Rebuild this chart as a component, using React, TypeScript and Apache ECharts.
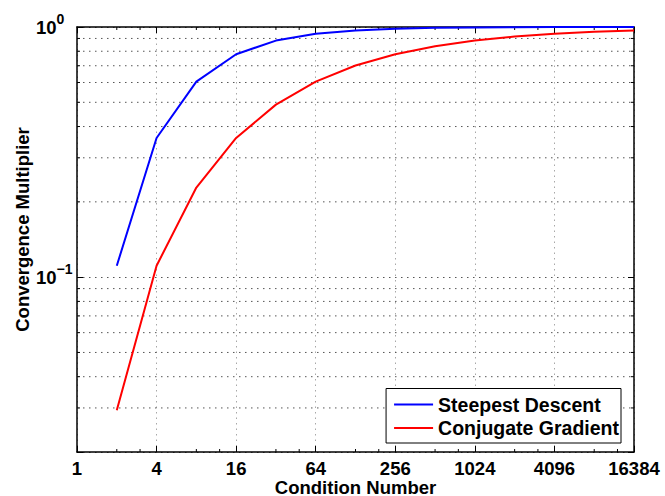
import React, { useEffect, useRef } from "react";
import * as echarts from "echarts";

// ---- data ----
const conditionNumbers = [2, 4, 8, 16, 32, 64, 128, 256, 512, 1024, 2048, 4096, 8192, 16384];
const steepestDescent = [0.1111, 0.36, 0.6049, 0.7785, 0.8825, 0.9394, 0.9693, 0.9845, 0.9922, 0.9961, 0.998, 0.999, 0.9995, 0.9998];
const conjugateGradient = [0.0294, 0.1111, 0.2281, 0.36, 0.4894, 0.6049, 0.7017, 0.7785, 0.8379, 0.8825, 0.9154, 0.9394, 0.9568, 0.9693];
const xTickLabels = ["1", "4", "16", "64", "256", "1024", "4096", "16384"];
const xMinorTicks = [2, 3, 8, 12, 32, 48, 128, 192, 512, 768, 2048, 3072, 8192, 12288];
const yMinorValues = [0.03, 0.04, 0.05, 0.06, 0.07, 0.08, 0.09, 0.2, 0.3, 0.4, 0.5, 0.6, 0.7, 0.8, 0.9];
const seriesNames = ["Steepest Descent", "Conjugate Gradient"];

const X_MIN = 1;
const X_MAX = 16384;
const Y_MIN = 0.02;
const Y_MAX = 1;

const FONT = '"Liberation Sans", Arial, Helvetica, sans-serif';

function pairs(xs: number[], ys: number[]) {
  return xs.map((x, i) => [x, ys[i]]);
}

export default function App() {
  const ref = useRef<HTMLDivElement>(null);

  useEffect(() => {
    if (!ref.current) return;
    const chart = echarts.init(ref.current, null, { renderer: "svg" });

    const frameAxisCommon = {
      axisLine: { show: true, onZero: false, lineStyle: { color: "#000", width: 1.5 } },
      axisTick: { show: true, inside: true, length: 6, lineStyle: { color: "#000", width: 1 } },
      minorTick: { show: false },
      minorSplitLine: { show: false },
    };

    const option: any = {
      animation: false,
      backgroundColor: "#fff",
      textStyle: { fontFamily: FONT },
      grid: { left: 77, right: 31, top: 27, bottom: 44, containLabel: false, outerBoundsMode: "none" },
      legend: {
        data: seriesNames,
        orient: "vertical",
        right: 44,
        bottom: 53,
        icon: "rect",
        itemWidth: 39,
        itemHeight: 2,
        itemGap: 3.5,
        padding: [6, 2, 5, 8],
        backgroundColor: "#fff",
        borderColor: "#000",
        borderWidth: 1,
        borderRadius: 0,
        selectedMode: false,
        textStyle: { fontSize: 19.5, fontWeight: "bold", color: "#000", fontFamily: FONT },
      },
      xAxis: [
        {
          type: "log",
          logBase: 4,
          min: X_MIN,
          max: X_MAX,
          splitNumber: 7,
          position: "bottom",
          name: "Condition Number",
          nameLocation: "middle",
          nameGap: 26,
          nameMoveOverlap: false,
          nameTextStyle: { fontSize: 18.5, fontWeight: "bold", color: "#000", fontFamily: FONT },
          ...frameAxisCommon,
          axisLabel: {
            show: true,
            margin: 7,
            color: "#000",
            fontSize: 18.5,
            fontWeight: "bold",
            fontFamily: FONT,
            showMinLabel: true,
            showMaxLabel: true,
            formatter: (v: number) => {
              const s = String(Math.round(v));
              return xTickLabels.includes(s) ? s : "";
            },
          },
          splitLine: { show: true, lineStyle: { color: "#a8a8a8", width: 1, type: [1.5, 4] } },
        },
        {
          type: "log",
          logBase: 4,
          min: X_MIN,
          max: X_MAX,
          splitNumber: 7,
          position: "top",
          ...frameAxisCommon,
          axisLabel: { show: false },
          splitLine: { show: false },
        },
      ],
      yAxis: [
        {
          type: "log",
          logBase: 10,
          min: Y_MIN,
          max: Y_MAX,
          splitNumber: 5,
          position: "left",
          name: "Convergence Multiplier",
          nameLocation: "middle",
          nameGap: 45,
          nameMoveOverlap: false,
          nameTextStyle: {
            fontSize: 18.5,
            fontWeight: "bold",
            color: "#000",
            fontFamily: FONT,
            padding: [0, 0, 0, 20],
          },
          ...frameAxisCommon,
          axisLabel: {
            show: true,
            margin: 41,
            align: "left",
            color: "#000",
            fontFamily: FONT,
            showMinLabel: true,
            showMaxLabel: true,
            formatter: (v: number) => {
              const e = Math.log10(v);
              const r = Math.round(e);
              if (Math.abs(e - r) > 1e-6) return "";
              const exp = r < 0 ? "\u2212" + String(-r) : String(r);
              return "{b|10}{s|" + exp + "}";
            },
            rich: {
              b: { fontSize: 18.5, fontWeight: "bold", color: "#000", fontFamily: FONT },
              s: { fontSize: 14, fontWeight: "bold", color: "#000", fontFamily: FONT, padding: [0, 0, 17, 0] },
            },
          },
          splitLine: { show: true, lineStyle: { color: "#555", width: 1, type: [1.5, 4.5] } },
        },
        {
          type: "log",
          logBase: 10,
          min: Y_MIN,
          max: Y_MAX,
          splitNumber: 5,
          position: "right",
          ...frameAxisCommon,
          axisLabel: { show: false },
          splitLine: { show: false },
        },
      ],
      series: [
        {
          type: "custom",
          name: "xMinor",
          silent: true,
          z: 4,
          xAxisIndex: 0,
          yAxisIndex: 0,
          data: xMinorTicks.map((v) => [v, Y_MAX]),
          renderItem: (_params: any, api: any) => {
            const v = api.value(0);
            const b = api.coord([v, Y_MIN]);
            const t = api.coord([v, Y_MAX]);
            return {
              type: "group",
              children: [
                { type: "line", shape: { x1: b[0], y1: b[1], x2: b[0], y2: b[1] - 3 }, style: { stroke: "#000", lineWidth: 1 } },
                { type: "line", shape: { x1: t[0], y1: t[1], x2: t[0], y2: t[1] + 3 }, style: { stroke: "#000", lineWidth: 1 } },
              ],
            };
          },
        },
        {
          type: "custom",
          name: "yMinor",
          silent: true,
          z: 1,
          xAxisIndex: 0,
          yAxisIndex: 0,
          data: yMinorValues.map((v) => [X_MIN, v]),
          renderItem: (_params: any, api: any) => {
            const v = api.value(1);
            const l = api.coord([X_MIN, v]);
            const r = api.coord([X_MAX, v]);
            return {
              type: "group",
              children: [
                { type: "line", shape: { x1: l[0], y1: l[1], x2: r[0], y2: r[1] }, style: { stroke: "#555", lineWidth: 1, lineDash: [1.5, 4.5] } },
                { type: "line", shape: { x1: l[0], y1: l[1], x2: l[0] + 3, y2: l[1] }, style: { stroke: "#000", lineWidth: 1 } },
                { type: "line", shape: { x1: r[0] - 3, y1: r[1], x2: r[0], y2: r[1] }, style: { stroke: "#000", lineWidth: 1 } },
              ],
            };
          },
        },
        {
          type: "line",
          name: seriesNames[0],
          data: pairs(conditionNumbers, steepestDescent),
          showSymbol: false,
          symbol: "none",
          z: 5,
          color: "#0000ff",
          itemStyle: { color: "#0000ff" },
          lineStyle: { color: "#0000ff", width: 2 },
        },
        {
          type: "line",
          name: seriesNames[1],
          data: pairs(conditionNumbers, conjugateGradient),
          showSymbol: false,
          symbol: "none",
          z: 5,
          color: "#ff0000",
          itemStyle: { color: "#ff0000" },
          lineStyle: { color: "#ff0000", width: 2 },
        },
      ],
    };

    chart.setOption(option);
    return () => chart.dispose();
  }, []);

  return <div ref={ref} style={{ width: 665, height: 496, position: "absolute", left: 0, top: 0 }} />;
}
